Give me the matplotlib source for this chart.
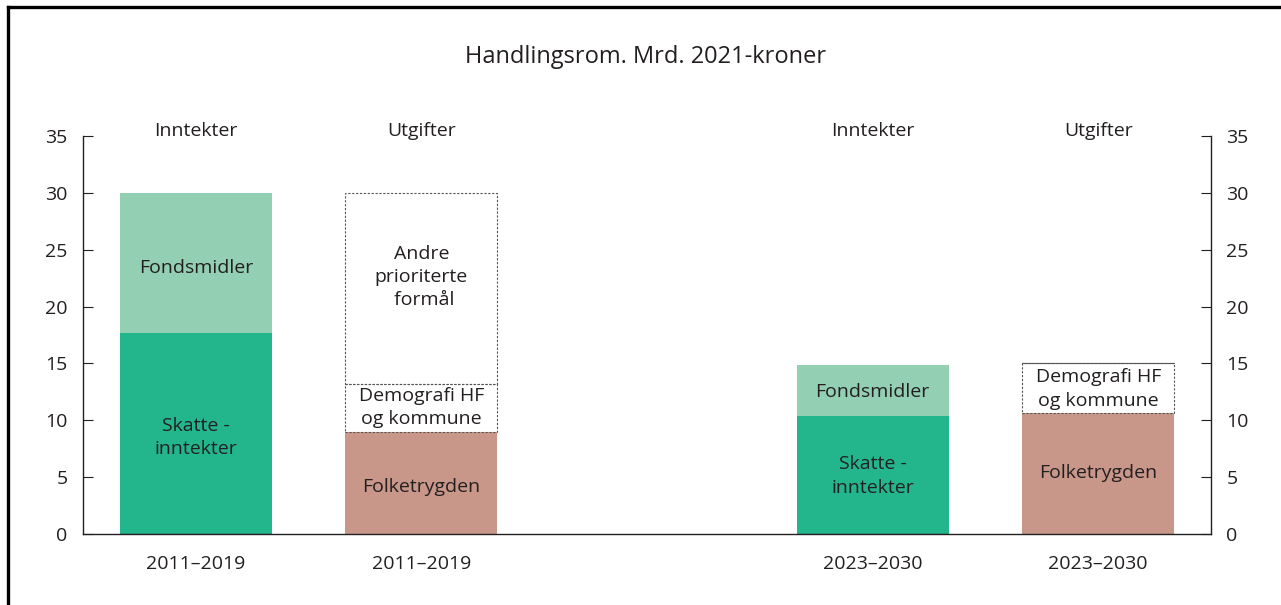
import matplotlib.pyplot as plt

plt.rcParams['font.family'] = ['Open Sans', 'DejaVu Sans']

# data (mrd. 2021-kroner)
periods = ["2011–2019", "2011–2019", "2023–2030", "2023–2030"]
headers = ["Inntekter", "Utgifter", "Inntekter", "Utgifter"]
positions = [0, 1, 3, 4]

skatt = [17.7, 0, 10.4, 0]
fond = [12.3, 0, 4.5, 0]
folketrygd = [0, 9.0, 0, 10.6]
demografi = [0, 4.2, 0, 4.4]
andre = [0, 16.8, 0, 0]

c_skatt = "#23b68d"
c_fond = "#92cfb3"
c_folk = "#c9978a"
w = 0.674

fig = plt.figure(figsize=(12.81, 6.05), dpi=100)
ax = fig.add_axes([83/1281, 1 - 534/605, (1211-83)/1281, 398/605])

ax.bar(positions, skatt, w, color=c_skatt)
ax.bar(positions, fond, w, bottom=skatt, color=c_fond)
ax.bar(positions, folketrygd, w, color=c_folk)
bottom2 = [f + d for f, d in zip(folketrygd, demografi)]
ax.bar(positions, demografi, w, bottom=folketrygd, fill=False,
       edgecolor="#555555", linewidth=0.8, linestyle=(0, (2, 1.5)))
ax.bar(positions, andre, w, bottom=bottom2, fill=False,
       edgecolor="#555555", linewidth=0.8, linestyle=(0, (2, 1.5)))

fs = 14
ls = 1.38
txt = dict(ha="center", va="center", fontsize=fs, color="#231f20")
ax.text(0, 23.4, "Fondsmidler", **txt)
ax.text(0, 8.5, "Skatte -\ninntekter", linespacing=ls, **txt)
ax.text(1, 22.6, "Andre\nprioriterte\n formål", linespacing=ls, **txt)
ax.text(1, 11.1, "Demografi HF\nog kommune", linespacing=ls, **txt)
ax.text(1, 4.1, "Folketrygden", **txt)
ax.text(3, 12.5, "Fondsmidler", **txt)
ax.text(3, 5.1, "Skatte -\ninntekter", linespacing=ls, **txt)
ax.text(4, 12.75, "Demografi HF\nog kommune", linespacing=ls, **txt)
ax.text(4, 5.4, "Folketrygden", **txt)

for p, h in zip(positions, headers):
    ax.text(p, 35.4, h, ha="center", va="center", fontsize=fs, color="#231f20")
for p, lab in zip(positions, periods):
    ax.text(p, -2.6, lab, ha="center", va="center", fontsize=fs, color="#231f20")

ax.set_xlim(-0.5, 4.5)
ax.set_ylim(0, 35)
ax.set_yticks(range(0, 36, 5))
ax.set_xticks([])
ax.spines['top'].set_visible(False)
for s in ['left', 'right', 'bottom']:
    ax.spines[s].set_linewidth(1.0)
    ax.spines[s].set_color("#231f20")
ax.tick_params(axis='y', direction='in', length=7, width=0.8, labelsize=fs,
               right=True, labelright=True, pad=11, colors="#231f20")

fig.text(646/1281, 1 - 57/605, "Handlingsrom. Mrd. 2021-kroner",
         ha="center", va="center", fontsize=17, color="#231f20")

# frame around the figure (left and top)
fig.add_artist(plt.Line2D([8/1281, 8/1281], [0, 1 - 7/605], transform=fig.transFigure,
                          color="black", linewidth=2.4))
fig.add_artist(plt.Line2D([8/1281, 1], [1 - 7/605, 1 - 7/605], transform=fig.transFigure,
                          color="black", linewidth=2.4))

fig.savefig("out.png", dpi=100)
